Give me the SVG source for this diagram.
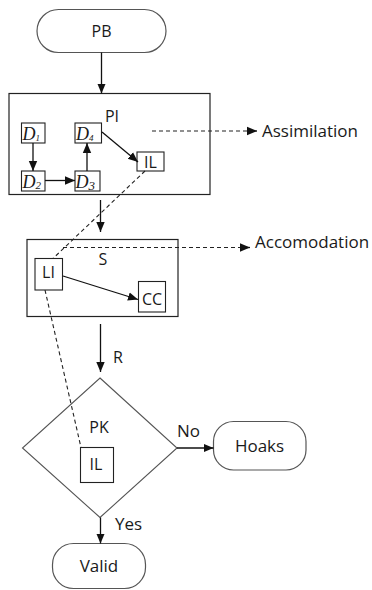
<svg xmlns="http://www.w3.org/2000/svg" width="372" height="590" viewBox="0 0 372 590">
<style>
.t{font-family:"Open Sans","Liberation Sans",sans-serif;font-size:16px;fill:#1a1a1a}
.b{font-size:17px}
.c{text-anchor:middle}
.d{font-family:"Liberation Serif",serif;font-style:italic;font-size:18px;fill:#1a1a1a}
.sub{font-size:9px}
.term{fill:#fff;stroke:#555;stroke-width:1.2}
.box{fill:#fff;stroke:#222;stroke-width:1.2}
.sbox{fill:#fff;stroke:#222;stroke-width:1.1}
.ln{stroke:#111;stroke-width:1.3;fill:none}
.da{stroke:#222;stroke-width:1.1;fill:none;stroke-dasharray:4,3}
</style>
<defs>
<marker id="ah" markerUnits="userSpaceOnUse" markerWidth="10" markerHeight="10" viewBox="0 0 10 10" refX="10" refY="5" orient="auto">
<path d="M0,0.8 L10,5 L0,9.2 Z" fill="#111"/>
</marker>
</defs>
<rect width="372" height="590" fill="#fff"/>
<g id="PB"><rect class="term" x="37" y="9.5" width="129" height="43" rx="21.5"/><text class="t c" x="101.5" y="37">PB</text></g>
<g id="PI"><rect class="box" x="9" y="93.5" width="201" height="101"/><text class="t c" x="112" y="122">PI</text></g>
<g id="D1"><rect class="sbox" x="21.5" y="123" width="23.5" height="20"/><text class="d" x="22.5" y="140">D<tspan class="sub" dy="1">1</tspan></text></g>
<g id="D4"><rect class="sbox" x="75" y="123" width="26.5" height="20"/><text class="d" x="76" y="140">D<tspan class="sub" dy="1">4</tspan></text></g>
<g id="D2"><rect class="sbox" x="21.5" y="171" width="23.5" height="20"/><text class="d" x="22.5" y="188">D<tspan class="sub" dy="1" style="font-size:11px">2</tspan></text></g>
<g id="D3"><rect class="sbox" x="75" y="171" width="25" height="20"/><text class="d" x="75.5" y="188">D<tspan class="sub" dy="2" style="font-size:13px">3</tspan></text></g>
<g id="IL1"><rect class="sbox" x="137" y="152" width="27" height="19"/><text class="t c" x="150.5" y="167.5">IL</text></g>
<g id="Assimilation"><text class="t b" x="262" y="137">Assimilation</text></g>
<g id="S"><rect class="box" x="27" y="239.5" width="151" height="77"/><text class="t c" x="103" y="265">S</text></g>
<g id="LI"><rect class="sbox" x="35" y="258.5" width="27.5" height="31.5"/><text class="t c" x="48.5" y="278">LI</text></g>
<g id="CC"><rect class="sbox" x="138.5" y="281.5" width="27" height="30.5"/><text class="t c" x="152" y="305">CC</text></g>
<g id="Accomodation"><text class="t b" x="255" y="248">Accomodation</text></g>
<g id="PK"><path d="M100,378 L177,448 L100,517.5 L22.5,448 Z" fill="#fff" stroke="#555" stroke-width="1.1"/><text class="t c" x="99" y="433">PK</text></g>
<g id="IL2"><rect class="sbox" x="80.5" y="447.5" width="33" height="35"/><text class="t c" x="96" y="470">IL</text></g>
<g id="Hoaks"><rect class="term" x="213.5" y="421.5" width="92.5" height="48.5" rx="20"/><text class="t c b" x="259.5" y="452">Hoaks</text></g>
<g id="Valid"><rect class="term" x="52.5" y="543.5" width="93" height="45" rx="21"/><text class="t c b" x="99" y="572">Valid</text></g>
<g id="labels">
<text class="t" x="113" y="363">R</text>
<text class="t b" x="177" y="437">No</text>
<text class="t b" x="115" y="530">Yes</text>
</g>
<g id="connectors">
<line class="ln" x1="101.5" y1="52.5" x2="101.5" y2="93.5" marker-end="url(#ah)"/>
<line class="ln" x1="33" y1="143" x2="33" y2="171" marker-end="url(#ah)"/>
<line class="ln" x1="45" y1="180.5" x2="75" y2="180.5" marker-end="url(#ah)"/>
<line class="ln" x1="87" y1="171" x2="87" y2="143" marker-end="url(#ah)"/>
<line class="ln" x1="102" y1="132" x2="138" y2="162" marker-end="url(#ah)"/>
<line class="da" x1="152" y1="131" x2="250" y2="131"/>
<line class="ln" x1="249" y1="131" x2="257" y2="131" marker-end="url(#ah)"/>
<line class="ln" x1="100.5" y1="200" x2="100.5" y2="232" marker-end="url(#ah)"/>
<line class="da" x1="145" y1="171" x2="53" y2="258.5"/>
<line class="da" x1="63" y1="247.5" x2="243" y2="247.5"/>
<line class="ln" x1="242" y1="247.5" x2="250" y2="247.5" marker-end="url(#ah)"/>
<line class="ln" x1="63" y1="276" x2="138" y2="299.5" marker-end="url(#ah)"/>
<line class="da" x1="45" y1="290" x2="81" y2="447.5"/>
<line class="ln" x1="100.5" y1="324" x2="100.5" y2="372" marker-end="url(#ah)"/>
<line class="ln" x1="177" y1="448" x2="213.5" y2="448" marker-end="url(#ah)"/>
<line class="ln" x1="100.5" y1="517.5" x2="100.5" y2="543.5" marker-end="url(#ah)"/>
</g>
</svg>
